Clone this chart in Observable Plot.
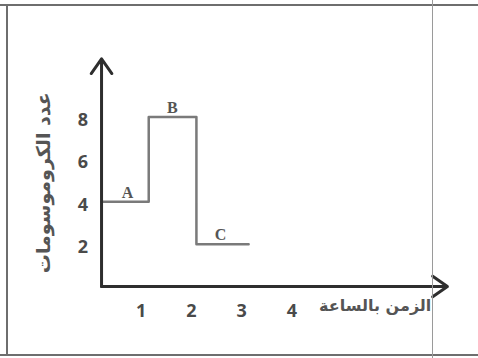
<!DOCTYPE html>
<html>
<head>
<meta charset="utf-8">
<script src="https://cdn.jsdelivr.net/npm/d3@7"></script>
<script src="https://cdn.jsdelivr.net/npm/@observablehq/plot@0.6"></script>
<style>
  html, body { margin: 0; padding: 0; background: #fff; }
  #wrap { position: relative; width: 478px; height: 358px; overflow: hidden; }
  #wrap svg { position: absolute; left: 0; top: 0; }
  .ln { position: absolute; background: #6e6e6e; }
</style>
</head>
<body>
<div id="wrap">
  <div class="ln" style="left:0;top:4px;width:478px;height:2px;"></div>
  <div class="ln" style="left:6px;top:4px;width:2px;height:352px;"></div>
  <div class="ln" style="left:0;top:354px;width:478px;height:2px;"></div>
  <div class="ln" style="left:432px;top:0;width:1px;height:358px;background:#9a9a9a;"></div>
</div>
<script>
// Data
const changeTimes = [0.21, 1.15, 2.1, 3.14];   // hours
const chromosomeCounts = [4, 8, 2, 2];
const phaseNames = ["A", "B", "C"];
const phaseTimes = [0.73, 1.62, 2.58];
const phaseCounts = [4, 8, 2];
const xTicks = [1, 2, 3, 4];
const yTicks = [2, 4, 6, 8];
const origin = {x: 0.21, y: 0};
const xAxisEnd = 7.1;
const yAxisEnd = 10.75;
const xTitle = "الزمن بالساعة";
const yTitle = "عدد الكروموسومات";
const xTitleAt = 6.78;
const yTitleAt = 4.9;

const steps = changeTimes.map((t, i) => ({t, n: chromosomeCounts[i]}));
const phases = phaseNames.map((p, i) => ({p, t: phaseTimes[i], n: phaseCounts[i]}));
const axes = [
  {x1: origin.x, y1: origin.y, x2: xAxisEnd, y2: origin.y},
  {x1: origin.x, y1: origin.y, x2: origin.x, y2: yAxisEnd}
];

const chart = Plot.plot({
  width: 478,
  height: 358,
  marginLeft: 90.5,
  marginRight: 11,
  marginTop: 53,
  marginBottom: 72,
  x: {domain: [0, 7.5]},
  y: {domain: [0, 11]},
  style: {background: "transparent", color: "#444"},
  marks: [
    Plot.axisX({ticks: xTicks, tickSize: 0, tickPadding: 18, label: null,
      fontSize: 18, fontFamily: "Open Sans", fontWeight: 700, fill: "#4a4a4a"}),
    Plot.axisY({ticks: yTicks, tickSize: 0, tickPadding: 3, dy: 3, label: null,
      fontSize: 18, fontFamily: "Open Sans", fontWeight: 700, fill: "#4a4a4a"}),
    Plot.line(steps, {x: "t", y: "n", curve: "step-after", stroke: "#7a7a7a", strokeWidth: 2.5}),
    Plot.arrow(axes, {x1: "x1", y1: "y1", x2: "x2", y2: "y2", stroke: "#2e2e2e", strokeWidth: 3, headLength: 9, headAngle: 70}),
    Plot.text(phases, {x: "t", y: "n", text: "p", lineAnchor: "bottom", dy: -4,
      fontSize: 16, fontFamily: "Liberation Serif", fontWeight: 600, fill: "#555"}),
    Plot.text([xTitle], {x: () => xTitleAt, y: () => 0, text: d => d, textAnchor: "end", dy: 19,
      fontSize: 16, fontFamily: "DejaVu Sans", fontWeight: 600, fill: "#555"}),
    Plot.text([yTitle], {x: () => 0, y: () => yTitleAt, text: d => d, rotate: -90, dx: -47,
      fontSize: 19, fontFamily: "DejaVu Sans", fontWeight: 600, fill: "#555"})
  ]
});
document.getElementById("wrap").insertBefore(chart, document.getElementById("wrap").firstChild);
</script>
</body>
</html>
